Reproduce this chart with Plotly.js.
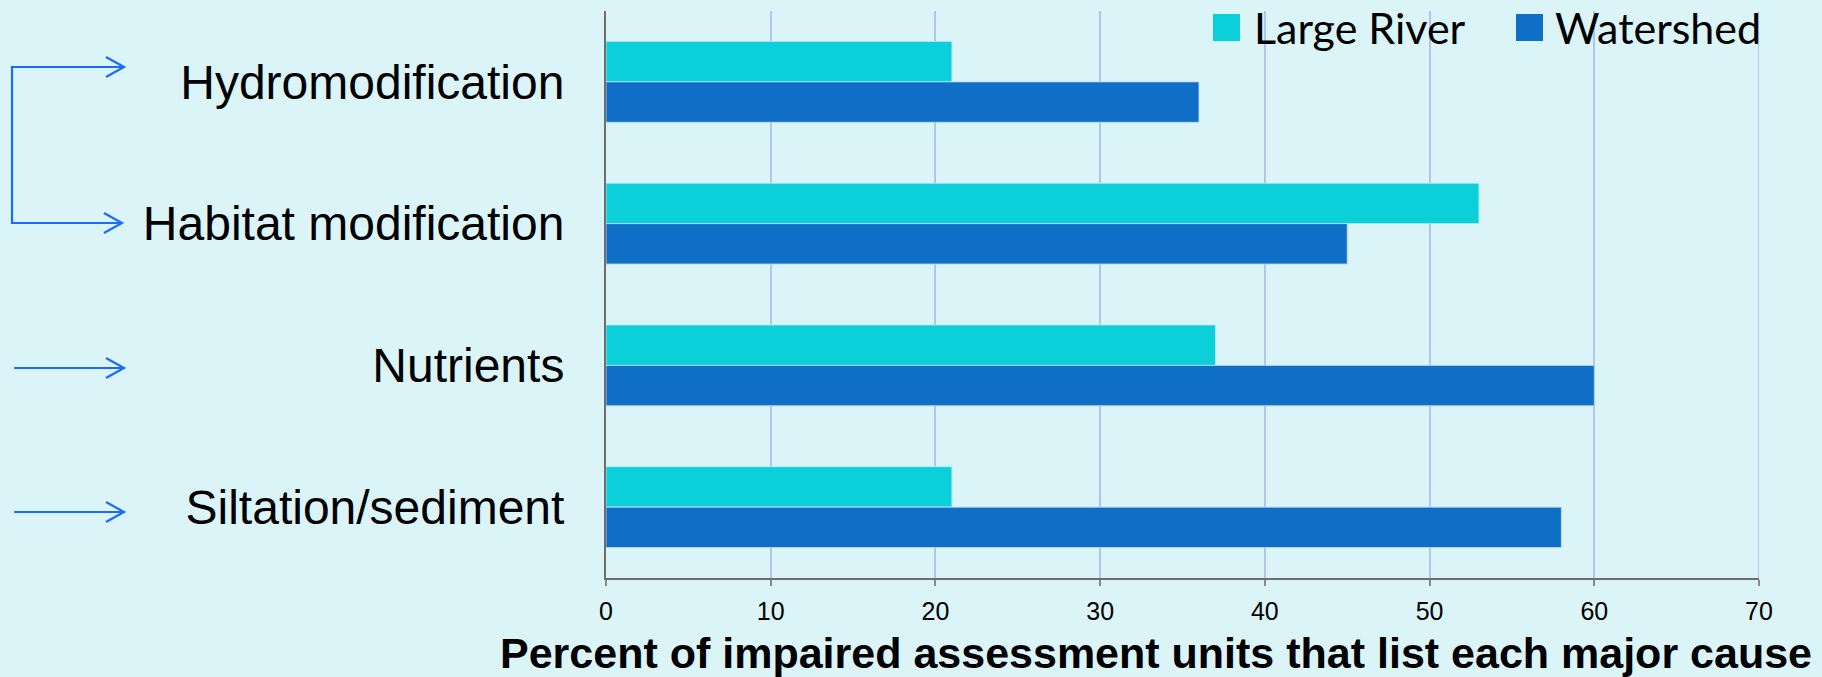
<!DOCTYPE html>
<html>
<head>
<meta charset="utf-8">
<script src="https://cdn.plot.ly/plotly-3.0.1.min.js"></script>
<style>
  html, body { margin: 0; padding: 0; background: #dbf4f8; }
  #chart { width: 1822px; height: 677px; }
</style>
</head>
<body>
<div id="chart"></div>
<script>
// ---- data ----
const categories = ["Hydromodification", "Habitat modification", "Nutrients", "Siltation/sediment"];
const seriesNames = ["Large River", "Watershed"];
const largeRiver = [21, 53, 37, 21];
const watershed = [36, 45, 60, 58];
const xTicks = [0, 10, 20, 30, 40, 50, 60, 70];
const xTitle = "Percent of impaired assessment units that list each major cause";

// ---- layout helpers (pixel -> paper) ----
const W = 1822, H = 677;
const M = { l: 606, r: 63, t: 11, b: 99 };
const PW = W - M.l - M.r, PH = H - M.t - M.b;
const px = x => (x - M.l) / PW;
const py = y => (H - M.b - y) / PH;
const colors = ["#0bd0d9", "#0f6fc6"];
const arrowColor = "#1a6aff";
const gridColor = "#b4c2f0";

const traces = [
  { type: "bar", orientation: "h", name: seriesNames[0], y: categories, x: largeRiver,
    marker: { color: colors[0], line: { color: "rgba(190,235,250,0.8)", width: 1 } }, showlegend: false },
  { type: "bar", orientation: "h", name: seriesNames[1], y: categories, x: watershed,
    marker: { color: colors[1], line: { color: "rgba(190,220,250,0.8)", width: 1 } }, showlegend: false }
];

function arrowPath(x1, x2, y) {
  return `M${px(x1)},${py(y)} L${px(x2)},${py(y)} M${px(x2 - 18)},${py(y - 10)} L${px(x2)},${py(y)} L${px(x2 - 18)},${py(y + 10)}`;
}
const shapes = [
  // gridline at the right edge of the axis range
  { type: "line", xref: "x", yref: "paper", x0: xTicks[xTicks.length - 1], x1: xTicks[xTicks.length - 1], y0: 0, y1: 1,
    line: { color: gridColor, width: 2 }, layer: "below" },
  { type: "path", xref: "paper", yref: "paper",
    path: `M${px(124)},${py(67)} L${px(12)},${py(67)} L${px(12)},${py(223)} L${px(122)},${py(223)}`,
    line: { color: arrowColor, width: 2.2 } },
  { type: "path", xref: "paper", yref: "paper",
    path: `M${px(106)},${py(57)} L${px(124)},${py(67)} L${px(106)},${py(77)}`, line: { color: arrowColor, width: 2.2 } },
  { type: "path", xref: "paper", yref: "paper",
    path: `M${px(104)},${py(213)} L${px(122)},${py(223)} L${px(104)},${py(233)}`, line: { color: arrowColor, width: 2.2 } },
  { type: "path", xref: "paper", yref: "paper", path: arrowPath(14, 124, 368), line: { color: arrowColor, width: 2.2 } },
  { type: "path", xref: "paper", yref: "paper", path: arrowPath(14, 124, 512), line: { color: arrowColor, width: 2.2 } },
  // legend swatches
  { type: "rect", xref: "paper", yref: "paper", x0: px(1213), x1: px(1240), y0: py(41), y1: py(14),
    fillcolor: colors[0], line: { width: 0 } },
  { type: "rect", xref: "paper", yref: "paper", x0: px(1516), x1: px(1543), y0: py(41), y1: py(14),
    fillcolor: colors[1], line: { width: 0 } }
];

const annotations = [
  { xref: "paper", yref: "paper", x: px(1252), y: py(27), xanchor: "left", yanchor: "middle",
    text: seriesNames[0], showarrow: false, font: { family: "Lato, sans-serif", size: 43, color: "#000" } },
  { xref: "paper", yref: "paper", x: px(1553), y: py(27), xanchor: "left", yanchor: "middle",
    text: seriesNames[1], showarrow: false, font: { family: "Lato, sans-serif", size: 43, color: "#000" } },
  { xref: "paper", yref: "paper", x: px(1156), y: py(653), xanchor: "center", yanchor: "middle",
    text: "<b>" + xTitle + "</b>", showarrow: false,
    font: { family: "Liberation Sans, Arial, sans-serif", size: 43, color: "#000" } }
];

const layout = {
  width: W, height: H,
  margin: M,
  paper_bgcolor: "#dbf4f8",
  plot_bgcolor: "#dbf4f8",
  barmode: "group",
  bargap: 0.43,
  bargroupgap: 0,
  showlegend: false,
  xaxis: {
    range: [0, 70], tickvals: xTicks, ticktext: xTicks.map(String),
    showgrid: true, gridcolor: gridColor, gridwidth: 2,
    showline: true, linecolor: "#6e6e6e", linewidth: 2,
    ticks: "outside", ticklen: 6, tickcolor: "#8a8a8a", tickwidth: 2,
    ticklabelstandoff: 4,
    zeroline: false,
    tickfont: { family: "Liberation Sans, Arial, sans-serif", size: 25, color: "#000" },
    fixedrange: true
  },
  yaxis: {
    type: "category", autorange: "reversed",
    showgrid: false, showline: true, linecolor: "#6e6e6e", linewidth: 2,
    ticks: "", ticklabelstandoff: 30,
    tickfont: { family: "Liberation Sans, Arial, sans-serif", size: 48, color: "#000" },
    fixedrange: true
  },
  shapes: shapes,
  annotations: annotations
};

Plotly.newPlot("chart", traces, layout, { displayModeBar: false, staticPlot: true });
</script>
</body>
</html>
